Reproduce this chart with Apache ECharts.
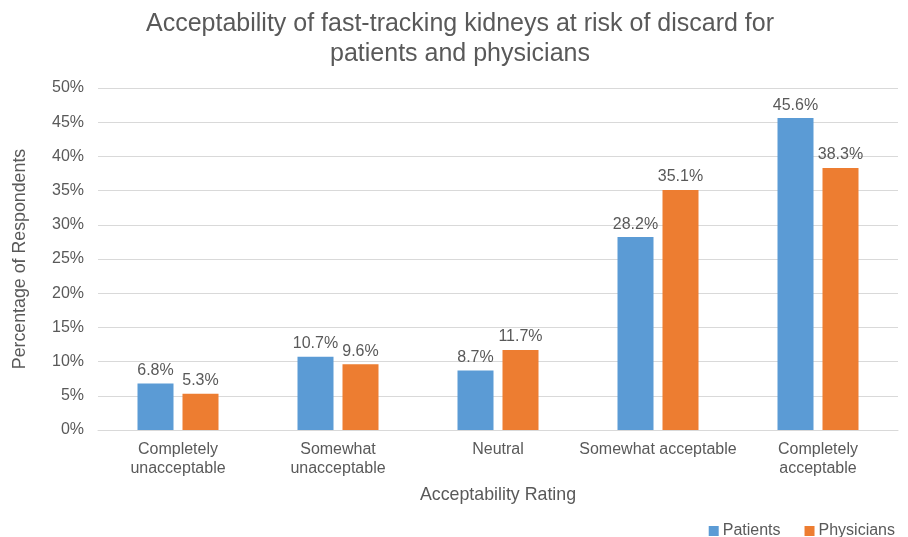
<!DOCTYPE html>
<html><head><meta charset="utf-8">
<script src="https://cdn.jsdelivr.net/npm/echarts@6/dist/echarts.min.js"></script>
<style>html,body{margin:0;padding:0;background:#fff}#c{width:908px;height:537px}</style>
</head><body><div id="c"></div>
<script>
const categories = ['Completely\nunacceptable', 'Somewhat\nunacceptable', 'Neutral', 'Somewhat acceptable', 'Completely\nacceptable'];
const patients = [6.8, 10.7, 8.7, 28.2, 45.6];
const physicians = [5.3, 9.6, 11.7, 35.1, 38.3];
const yTicks = [0, 5, 10, 15, 20, 25, 30, 35, 40, 45, 50];

const FONT = '"Liberation Sans", Arial, sans-serif';
const TXT = '#595959';
const chart = echarts.init(document.getElementById('c'), null, {renderer: 'canvas'});
const lbl = {show: true, position: 'top', distance: 5, color: TXT, fontSize: 16, fontFamily: FONT, formatter: p => p.value.toFixed(1) + '%'};
chart.setOption({
  animation: false,
  textStyle: {fontFamily: FONT},
  title: {
    text: 'Acceptability of fast-tracking kidneys at risk of discard for\npatients and physicians',
    left: 455, top: 4, textAlign: 'center',
    textStyle: {fontSize: 25, fontWeight: 'normal', color: TXT, fontFamily: FONT, lineHeight: 30}
  },
  legend: {
    right: 8, top: 518, itemWidth: 10, itemHeight: 10, itemGap: 24,
    icon: 'rect',
    textStyle: {color: TXT, fontSize: 16, fontFamily: FONT, padding: [0, 0, 0, -1]},
    data: ['Patients', 'Physicians']
  },
  grid: {left: 98, right: 10, top: 88, bottom: 107, containLabel: false},
  xAxis: {
    type: 'category', data: categories,
    name: 'Acceptability Rating', nameLocation: 'middle', nameGap: 56,
    nameTextStyle: {color: TXT, fontSize: 17.8, fontFamily: FONT},
    axisLine: {lineStyle: {color: '#d9d9d9'}},
    axisTick: {show: false},
    axisLabel: {color: TXT, fontSize: 16, fontFamily: FONT, margin: 10, lineHeight: 19, interval: 0}
  },
  yAxis: {
    type: 'value', min: yTicks[0], max: yTicks[yTicks.length - 1], interval: 5,
    name: 'Percentage of Respondents', nameLocation: 'middle', nameGap: 69, nameRotate: 90,
    nameTextStyle: {color: TXT, fontSize: 17.8, fontFamily: FONT},
    axisLine: {show: false}, axisTick: {show: false},
    axisLabel: {color: TXT, fontSize: 16, fontFamily: FONT, margin: 14, formatter: v => v + '%'},
    splitLine: {lineStyle: {color: '#d9d9d9'}}
  },
  series: [
    {name: 'Patients', type: 'bar', data: patients, barWidth: 36, barGap: '25%', itemStyle: {color: '#5B9BD5'}, label: lbl},
    {name: 'Physicians', type: 'bar', data: physicians, barWidth: 36, barGap: '25%', itemStyle: {color: '#ED7D31'}, label: lbl}
  ]
});
</script></body></html>
